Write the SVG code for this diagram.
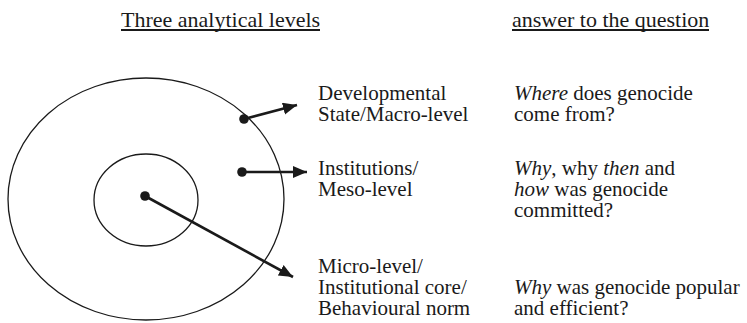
<svg xmlns="http://www.w3.org/2000/svg" width="747" height="323" viewBox="0 0 747 323">
  <style>
    text { font-family: "Liberation Serif", "Times New Roman", serif; font-size: 21px; fill: #1a1a1a; }
    .head { font-size: 22px; }
    .i { font-style: italic; }
    .ring { fill: none; stroke: #1a1a1a; stroke-width: 1.3; }
    .rule { stroke: #1a1a1a; stroke-width: 1.8; }
    .conn { stroke: #1a1a1a; stroke-width: 2.6; fill: none; marker-end: url(#head); }
    .dot { fill: #1a1a1a; }
  </style>
  <defs>
    <marker id="head" markerUnits="userSpaceOnUse" markerWidth="16" markerHeight="14" refX="14" refY="6" orient="auto">
      <path d="M0,0 L14,6 L0,12 Z" fill="#1a1a1a"/>
    </marker>
  </defs>

  <!-- column headings -->
  <g id="heading-levels">
    <text class="head" x="121" y="27">Three analytical levels</text>
    <line class="rule" x1="121" y1="30" x2="320" y2="30"/>
  </g>
  <g id="heading-answers">
    <text class="head" x="512" y="27">answer to the question</text>
    <line class="rule" x1="512" y1="30" x2="709" y2="30"/>
  </g>

  <!-- concentric levels -->
  <g id="outer-level">
    <ellipse class="ring" cx="146" cy="199" rx="138" ry="121"/>
  </g>
  <g id="inner-level">
    <ellipse class="ring" cx="146" cy="200" rx="52" ry="46"/>
  </g>

  <!-- pointers from each level to its label -->
  <g id="connectors">
    <circle class="dot" cx="244" cy="119" r="4.8"/>
    <path class="conn" d="M244,119 L297,105"/>
    <circle class="dot" cx="242" cy="172" r="4.8"/>
    <path class="conn" d="M242,172 L307,172"/>
    <circle class="dot" cx="145" cy="196" r="4.8"/>
    <path class="conn" d="M145,196 L293,277"/>
  </g>

  <!-- level labels -->
  <g id="macro-label">
    <text x="318" y="100">Developmental</text>
    <text x="318" y="121">State/Macro-level</text>
  </g>
  <g id="meso-label">
    <text x="318" y="175">Institutions/</text>
    <text x="318" y="196">Meso-level</text>
  </g>
  <g id="micro-label">
    <text x="318" y="273">Micro-level/</text>
    <text x="318" y="294">Institutional core/</text>
    <text x="318" y="315">Behavioural norm</text>
  </g>

  <!-- questions answered at each level -->
  <g id="macro-question">
    <text x="514" y="100"><tspan class="i">Where</tspan> does genocide</text>
    <text x="514" y="121">come from?</text>
  </g>
  <g id="meso-question">
    <text x="514" y="175"><tspan class="i">Why</tspan>, why <tspan class="i">then</tspan> and</text>
    <text x="514" y="196"><tspan class="i">how</tspan> was genocide</text>
    <text x="514" y="217">committed?</text>
  </g>
  <g id="micro-question">
    <text x="514" y="294"><tspan class="i">Why</tspan> was genocide popular</text>
    <text x="514" y="315">and efficient?</text>
  </g>
</svg>
